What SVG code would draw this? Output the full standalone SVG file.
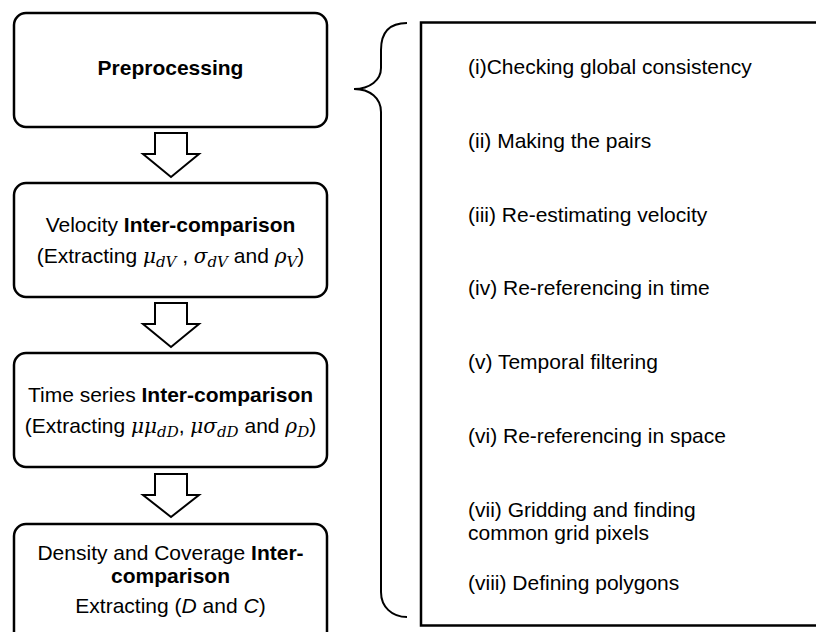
<svg xmlns="http://www.w3.org/2000/svg" width="816" height="632" viewBox="0 0 816 632">
<style>
.box{fill:#fff;stroke:#000;stroke-width:2.5}
.arr{fill:#fff;stroke:#000;stroke-width:2;stroke-linejoin:miter}
.t{font-family:"Liberation Sans",Arial,sans-serif;font-size:21px;fill:#000}
.c{text-anchor:middle}
.b{font-weight:bold}
.m{font-family:"DejaVu Serif","Liberation Serif",serif;font-style:italic;font-size:20px}
.s{font-size:15px}
.i{font-style:italic}
</style>
<rect width="816" height="632" fill="#fff"/>
<g id="node-preprocessing">
<rect class="box" x="14" y="13" width="313" height="114" rx="12"/>
<text class="t c b" x="170.5" y="75">Preprocessing</text>
</g>
<g id="node-velocity">
<rect class="box" x="14" y="183" width="313" height="114" rx="12"/>
<text class="t c" x="170.5" y="232">Velocity <tspan class="b">Inter-comparison</tspan></text>
<text class="t c" x="170.5" y="263">(Extracting  <tspan class="m">μ</tspan><tspan class="m s" dy="4">dV</tspan><tspan dy="-4"> , </tspan><tspan class="m">σ</tspan><tspan class="m s" dy="4">dV</tspan><tspan dy="-4"> and </tspan><tspan class="m">ρ</tspan><tspan class="m s" dy="4">V</tspan><tspan dy="-4">)</tspan></text>
</g>
<g id="node-timeseries">
<rect class="box" x="14" y="353" width="313" height="114" rx="12"/>
<text class="t c" x="170.5" y="402">Time series <tspan class="b">Inter-comparison</tspan></text>
<text class="t c" x="170.5" y="433">(Extracting <tspan class="m">μμ</tspan><tspan class="m s" dy="4">dD</tspan><tspan dy="-4">, </tspan><tspan class="m">μσ</tspan><tspan class="m s" dy="4">dD</tspan><tspan dy="-4"> and </tspan><tspan class="m">ρ</tspan><tspan class="m s" dy="4">D</tspan><tspan dy="-4">)</tspan></text>
</g>
<g id="node-density">
<rect class="box" x="14" y="524" width="313" height="130" rx="12"/>
<text class="t c" x="170.5" y="560">Density and Coverage <tspan class="b">Inter-</tspan></text>
<text class="t c b" x="170.5" y="583">comparison</text>
<text class="t c" x="170.5" y="613">Extracting (<tspan class="i">D</tspan> and <tspan class="i">C</tspan>)</text>
</g>
<g id="node-steps">
<rect class="box" x="421" y="22.5" width="420" height="603"/>
<text class="t" x="468" y="74">(i)Checking global consistency</text>
<text class="t" x="468" y="148">(ii) Making the pairs</text>
<text class="t" x="468" y="222">(iii) Re-estimating velocity</text>
<text class="t" x="468" y="295">(iv) Re-referencing in time</text>
<text class="t" x="468" y="369">(v) Temporal filtering</text>
<text class="t" x="468" y="443">(vi) Re-referencing in space</text>
<text class="t" x="468" y="517">(vii) Gridding and finding</text>
<text class="t" x="468" y="540">common grid pixels</text>
<text class="t" x="468" y="590">(viii) Defining polygons</text>
</g>
<g id="connectors">
<polygon class="arr" points="155,133 187,133 187,154 199,154 171,177 143,154 155,154"/>
<polygon class="arr" points="155,303 187,303 187,324 199,324 171,347 143,324 155,324"/>
<polygon class="arr" points="155,474 187,474 187,495 199,495 171,517 143,495 155,495"/>
<path fill="none" stroke="#000" stroke-width="2" d="M407,23 C390,23 381,32 381,50 L381,68 C381,80 370,89 354,89 C370,89 381,98 381,112 L381,592 C381,607 392,617 407,617"/>
</g>
</svg>
